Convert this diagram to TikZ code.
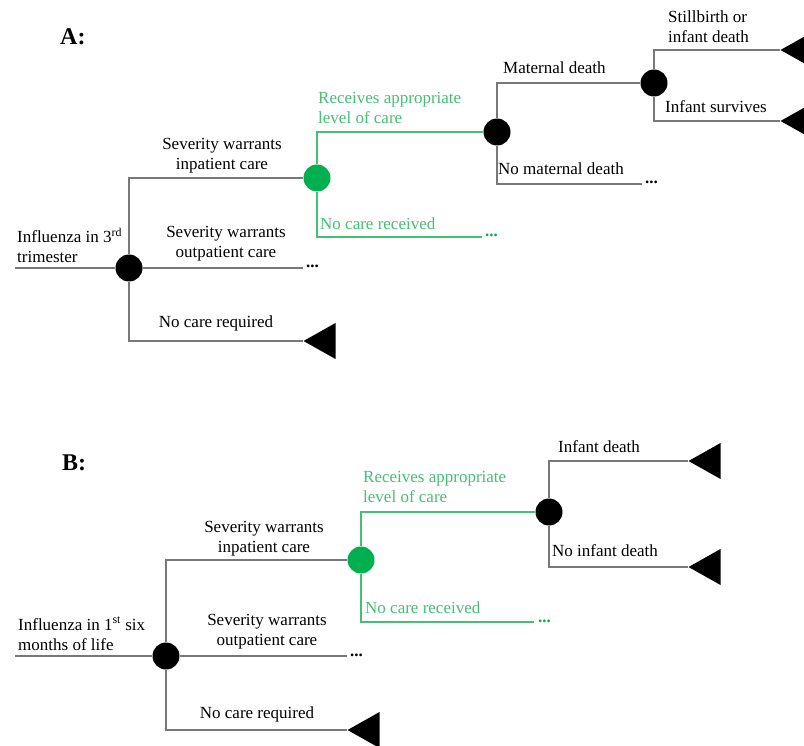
\documentclass[tikz,border=0pt]{standalone}
\usepackage{fontspec}
\setmainfont{Liberation Serif}
\usetikzlibrary{shapes.geometric}

\definecolor{branchgray}{RGB}{120,120,120}
\definecolor{caregreen}{RGB}{0,176,80}
\definecolor{carelight}{RGB}{70,190,115}

\tikzset{
  chance/.style={circle,fill=black,minimum size=27pt,inner sep=0pt},
  chancegreen/.style={chance,fill=caregreen},
  terminal/.style={isosceles triangle,isosceles triangle stretches,shape border rotate=180,
    fill=black,minimum width=36pt,minimum height=32pt,inner sep=0pt,anchor=apex},
  branch/.style={draw=branchgray,line width=1.1pt},
  greenbranch/.style={draw=carelight,line width=1.1pt},
  txt/.style={font=\fontsize{17}{20}\selectfont,inner sep=0pt},
  more/.style={txt,font=\fontsize{17}{20}\selectfont\bfseries,anchor=base west},
  paneltitle/.style={font=\fontsize{24}{28}\selectfont\bfseries,inner sep=0pt,anchor=base west}
}

\begin{document}
\begin{tikzpicture}[x=1pt,y=-1pt]
\useasboundingbox (0,0) rectangle (804,746);

% A: influenza in pregnancy
\node[paneltitle] (a-title) at (60,45) {A:};
\node[chance] (a-root) at (129,268) {};
\node[chancegreen] (a-care) at (317,178) {};
\node[chance] (a-mom) at (497,132) {};
\node[chance] (a-baby) at (654,83) {};
\coordinate (a-in) at (15,268);
\coordinate (a-out) at (303,268);
\coordinate (a-none) at (482,237);
\coordinate (a-live) at (642,184);
\node[terminal] (a-req) at (303,341) {};
\node[terminal] (a-death) at (780,50) {};
\node[terminal] (a-surv) at (780,121) {};

\draw[branch] (a-in) -- (a-root);
\draw[branch] (a-root) |- (a-care);
\draw[branch] (a-root) -- (a-out);
\draw[branch] (a-root) |- (a-req.apex);
\draw[greenbranch] (a-care) |- (a-mom);
\draw[greenbranch] (a-care) |- (a-none);
\draw[branch] (a-mom) |- (a-baby);
\draw[branch] (a-mom) |- (a-live);
\draw[branch] (a-baby) |- (a-death.apex);
\draw[branch] (a-baby) |- (a-surv.apex);

\node[more] (a-out-more) at (306,268) {...};
\node[more,text=caregreen] (a-none-more) at (485,237) {...};
\node[more] (a-live-more) at (645,184) {...};

% base anchor of a two-line label sits on its last line
\node[txt,align=left,anchor=base west] (a-in-lbl) at (17,263) {Influenza in 3\textsuperscript{rd}\\trimester};
\node[txt,align=center,anchor=base] (a-inp-lbl) at (222,170) {Severity warrants\\inpatient care};
\node[txt,align=center,anchor=base] (a-outp-lbl) at (226,258) {Severity warrants\\outpatient care};
\node[txt,anchor=base] (a-req-lbl) at (216,328) {No care required};
\node[txt,align=left,anchor=base west,text=carelight] (a-care-lbl) at (318,124) {Receives appropriate\\level of care};
\node[txt,anchor=base west,text=carelight] (a-none-lbl) at (320,230) {No care received};
\node[txt,anchor=base west] (a-mom-lbl) at (503,74) {Maternal death};
\node[txt,anchor=base west] (a-live-lbl) at (498,175) {No maternal death};
\node[txt,align=left,anchor=base west] (a-death-lbl) at (668,43) {Stillbirth or\\infant death};
\node[txt,anchor=base west] (a-surv-lbl) at (665,113) {Infant survives};

% B: influenza in infants
\node[paneltitle] (b-title) at (62,470) {B:};
\node[chance] (b-root) at (166,656) {};
\node[chancegreen] (b-care) at (361,560) {};
\node[chance] (b-baby) at (549,512) {};
\coordinate (b-in) at (15,656);
\coordinate (b-out) at (347,656);
\coordinate (b-none) at (534,622);
\node[terminal] (b-req) at (347,730) {};
\node[terminal] (b-death) at (688,461) {};
\node[terminal] (b-surv) at (688,567) {};

\draw[branch] (b-in) -- (b-root);
\draw[branch] (b-root) |- (b-care);
\draw[branch] (b-root) -- (b-out);
\draw[branch] (b-root) |- (b-req.apex);
\draw[greenbranch] (b-care) |- (b-baby);
\draw[greenbranch] (b-care) |- (b-none);
\draw[branch] (b-baby) |- (b-death.apex);
\draw[branch] (b-baby) |- (b-surv.apex);

\node[more] (b-out-more) at (350,656) {...};
\node[more,text=caregreen] (b-none-more) at (538,622) {...};

\node[txt,align=left,anchor=base west] (b-in-lbl) at (18,650) {Influenza in 1\textsuperscript{st} six\\months of life};
\node[txt,align=center,anchor=base] (b-inp-lbl) at (264,552) {Severity warrants\\inpatient care};
\node[txt,align=center,anchor=base] (b-outp-lbl) at (267,645) {Severity warrants\\outpatient care};
\node[txt,anchor=base] (b-req-lbl) at (257,718) {No care required};
\node[txt,align=left,anchor=base west,text=carelight] (b-care-lbl) at (363,502) {Receives appropriate\\level of care};
\node[txt,anchor=base west,text=carelight] (b-none-lbl) at (365,613) {No care received};
\node[txt,anchor=base west] (b-death-lbl) at (558,452) {Infant death};
\node[txt,anchor=base west] (b-surv-lbl) at (552,556) {No infant death};
\end{tikzpicture}
\end{document}
